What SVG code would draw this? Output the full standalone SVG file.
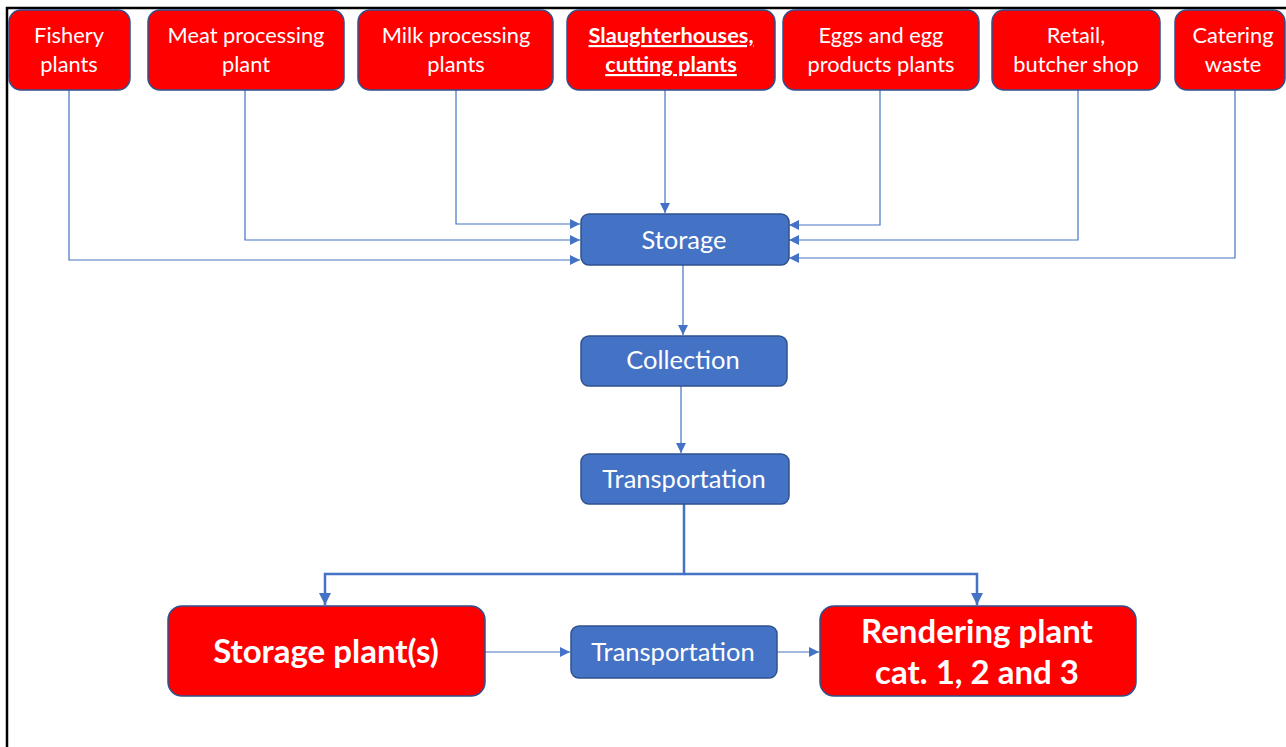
<svg xmlns="http://www.w3.org/2000/svg" width="1286" height="747" viewBox="0 0 1286 747">
<defs>
<marker id="ah" markerWidth="10" markerHeight="10" refX="10" refY="5" orient="auto" markerUnits="userSpaceOnUse">
<path d="M0,0 L10,5 L0,10 Z" fill="#4472C4"/>
</marker>
<marker id="ahb" markerWidth="12" markerHeight="12" refX="12" refY="6" orient="auto" markerUnits="userSpaceOnUse">
<path d="M0,0 L12,6 L0,12 Z" fill="#4472C4"/>
</marker>
</defs>
<style>
.red{fill:#FF0000;stroke:#2F528F;stroke-width:1.5}
.blue{fill:#4472C4;stroke:#2F528F;stroke-width:1.5}
.t{font-family:Lato,"Liberation Sans",sans-serif;fill:#fff;text-anchor:middle}
.s{font-size:21.8px}
.m{font-size:25.5px}
.L{font-size:33px;font-weight:bold}
.b{font-weight:bold}
.c{fill:none;stroke:#4472C4;stroke-width:1.2}
.cb{fill:none;stroke:#4472C4;stroke-width:2.5}
</style>
<rect width="1286" height="747" fill="#fff"/>
<path d="M7,747 V8 H1286" fill="none" stroke="#000" stroke-width="2.5"/>

<g id="connectors">
<path class="c" d="M69,90 V260 H580" marker-end="url(#ah)"/>
<path class="c" d="M245,90 V240 H580" marker-end="url(#ah)"/>
<path class="c" d="M456,90 V224 H580" marker-end="url(#ah)"/>
<path class="c" d="M665,90 V213" marker-end="url(#ah)"/>
<path class="c" d="M880,90 V225 H789" marker-end="url(#ah)"/>
<path class="c" d="M1078,90 V240 H789" marker-end="url(#ah)"/>
<path class="c" d="M1235,90 V258 H789" marker-end="url(#ah)"/>
<path class="c" d="M683,265 V335" marker-end="url(#ah)"/>
<path class="c" d="M681,386 V453" marker-end="url(#ah)"/>
<path class="cb" d="M684,504 V574 H325 V605" marker-end="url(#ahb)"/>
<path class="cb" d="M684,574 H977 V605" marker-end="url(#ahb)"/>
<path class="c" d="M485,652 H570" marker-end="url(#ah)"/>
<path class="c" d="M777,652 H819" marker-end="url(#ah)"/>
</g>

<g id="fishery">
<rect class="red" x="9" y="10" width="121" height="80" rx="12"/>
<text class="t s" x="69" y="43">Fishery</text>
<text class="t s" x="69" y="72">plants</text>
</g>
<g id="meat">
<rect class="red" x="148" y="10" width="196" height="80" rx="12"/>
<text class="t s" x="246" y="43">Meat processing</text>
<text class="t s" x="246" y="72">plant</text>
</g>
<g id="milk">
<rect class="red" x="358" y="10" width="195" height="80" rx="12"/>
<text class="t s" x="456" y="43">Milk processing</text>
<text class="t s" x="456" y="72">plants</text>
</g>
<g id="slaughter">
<rect class="red" x="567" y="10" width="208" height="80" rx="12"/>
<text class="t s b" x="671" y="43" text-decoration="underline">Slaughterhouses,</text>
<text class="t s b" x="671" y="72" text-decoration="underline">cutting plants</text>
</g>
<g id="eggs">
<rect class="red" x="783" y="10" width="196" height="80" rx="12"/>
<text class="t s" x="881" y="43">Eggs and egg</text>
<text class="t s" x="881" y="72">products plants</text>
</g>
<g id="retail">
<rect class="red" x="992" y="10" width="168" height="80" rx="12"/>
<text class="t s" x="1076" y="43">Retail,</text>
<text class="t s" x="1076" y="72">butcher shop</text>
</g>
<g id="catering">
<rect class="red" x="1175" y="10" width="110" height="80" rx="12"/>
<text class="t s" x="1233" y="43">Catering</text>
<text class="t s" x="1233" y="72">waste</text>
</g>

<g id="storage">
<rect class="blue" x="581" y="214" width="208" height="51" rx="8"/>
<text class="t m" x="684" y="249">Storage</text>
</g>
<g id="collection">
<rect class="blue" x="581" y="336" width="206" height="50" rx="8"/>
<text class="t m" x="683" y="369">Collection</text>
</g>
<g id="transportation1">
<rect class="blue" x="581" y="454" width="208" height="50" rx="8"/>
<text class="t m" x="684" y="488">Transportation</text>
</g>
<g id="storageplants">
<rect class="red" x="168" y="606" width="317" height="90" rx="14"/>
<text class="t L" x="326" y="663">Storage plant(s)</text>
</g>
<g id="transportation2">
<rect class="blue" x="571" y="626" width="206" height="52" rx="8"/>
<text class="t m" x="673" y="661">Transportation</text>
</g>
<g id="rendering">
<rect class="red" x="820" y="606" width="316" height="90" rx="14"/>
<text class="t L" x="977" y="643">Rendering plant</text>
<text class="t L" x="977" y="684">cat. 1, 2 and 3</text>
</g>
</svg>
